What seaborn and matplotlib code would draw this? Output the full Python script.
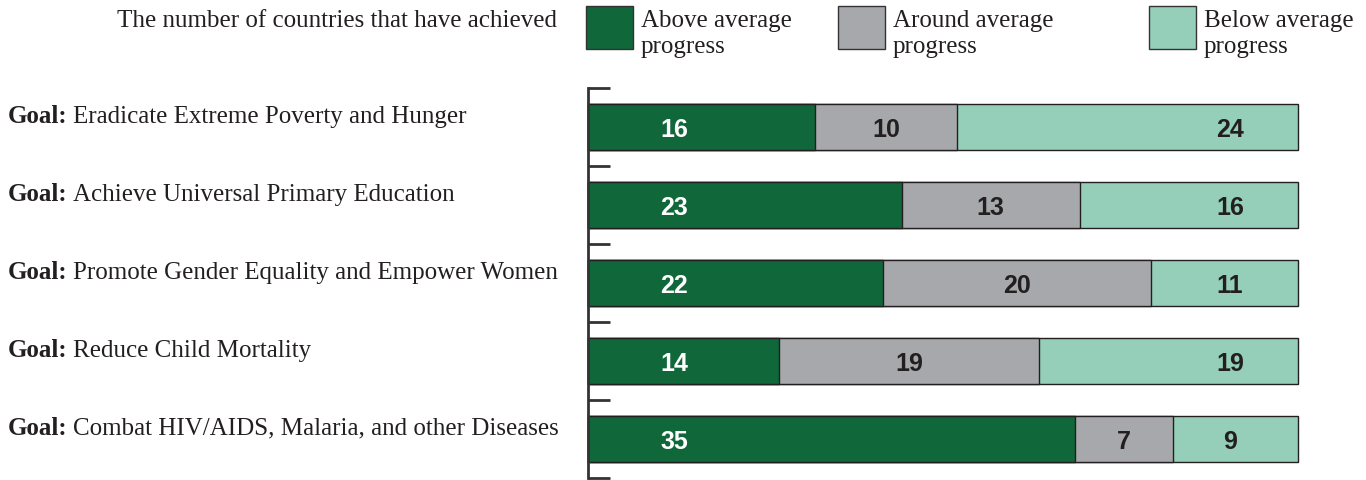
import numpy as np
import pandas as pd
import matplotlib
matplotlib.use("Agg")
import matplotlib.pyplot as plt
import matplotlib.transforms as mtransforms
from matplotlib.patches import Rectangle
import seaborn as sns

# data
goals = ['Eradicate Extreme Poverty and Hunger',
         'Achieve Universal Primary Education',
         'Promote Gender Equality and Empower Women',
         'Reduce Child Mortality',
         'Combat HIV/AIDS, Malaria, and other Diseases']
above = [16, 23, 22, 14, 35]
around = [10, 13, 20, 19, 7]
below = [24, 16, 11, 19, 9]
series_names = ['Above average\nprogress', 'Around average\nprogress', 'Below average\nprogress']

green = '#10673a'
grey = '#a7a8ab'
teal = '#95cfb9'
dark = '#231f20'
serif = 'Liberation Serif'
sans = 'Liberation Sans'
fs = 18

df = pd.DataFrame({'goal': goals, 'above': above, 'around': around, 'below': below})
df['total'] = df['above'] + df['around'] + df['below']
df['c1'] = df['above'] / df['total']
df['c2'] = (df['above'] + df['around']) / df['total']
df['c3'] = 1.0

sns.set_style('white')
fig = plt.figure(figsize=(13.66, 4.81), dpi=100)
ax = fig.add_axes([588 / 1366, 2 / 481, 710 / 1366, 390 / 481])

# stacked bars drawn as cumulative layers, widest first
for col, c in [('c3', teal), ('c2', grey), ('c1', green)]:
    sns.barplot(data=df, y='goal', x=col, orient='h', color=c, saturation=1,
                width=0.59, edgecolor=dark, linewidth=1, ax=ax)
for p in ax.patches:
    p.set_clip_on(False)

ax.set_xlim(0, 1)
ax.set_ylim(4.5, -0.5)
ax.set_xlabel('')
ax.set_ylabel('')
ax.set_xticks([])
ax.set_yticks(np.arange(-0.5, len(goals), 1))
ax.set_yticklabels([])
ax.tick_params(axis='y', direction='in', length=16, width=2, color='#333333', left=True)
for s in ['top', 'right', 'bottom']:
    ax.spines[s].set_visible(False)
ax.spines['left'].set_color('#333333')
ax.spines['left'].set_linewidth(2)
ax.spines['left'].set_zorder(5)

# value labels
for i, row in df.iterrows():
    y = i + 0.11
    ax.text(0.121, y, str(row['above']), ha='center', va='baseline', color='white',
            fontsize=18, fontweight='bold', family=sans)
    ax.text((row['c1'] + row['c2']) / 2, y, str(row['around']), ha='center', va='baseline',
            color=dark, fontsize=18, fontweight='bold', family=sans)
    ax.text(0.904, y, str(row['below']), ha='center', va='baseline', color=dark,
            fontsize=18, fontweight='bold', family=sans)

# goal labels on the left
trans = mtransforms.blended_transform_factory(fig.transFigure, ax.transData)
for i, g in enumerate(goals):
    t = ax.text(8 / 1366, i - 0.07, 'Goal:', transform=trans, ha='left', va='baseline',
                fontsize=fs, fontweight='bold', family=serif, color=dark)
    ax.annotate(g, xy=(1, 0), xycoords=t, xytext=(4, 0), textcoords='offset points',
                ha='left', va='bottom', fontsize=fs, family=serif, color=dark)

# header and legend
fig.text(557 / 1366, 1 - 27 / 481, 'The number of countries that have achieved', ha='right',
         va='baseline', fontsize=fs, family=serif, color=dark)
legend_x = [586, 838, 1149]
for x0, c, name in zip(legend_x, [green, grey, teal], series_names):
    fig.add_artist(Rectangle((x0 / 1366, 1 - 50 / 481), 47 / 1366, 43 / 481,
                             transform=fig.transFigure, facecolor=c, edgecolor='#333333', linewidth=1))
    l1, l2 = name.split('\n')
    fig.text((x0 + 55) / 1366, 1 - 27 / 481, l1, ha='left', va='baseline', fontsize=fs,
             family=serif, color=dark)
    fig.text((x0 + 55) / 1366, 1 - 53 / 481, l2, ha='left', va='baseline', fontsize=fs,
             family=serif, color=dark)

fig.savefig('out.png', dpi=100)
